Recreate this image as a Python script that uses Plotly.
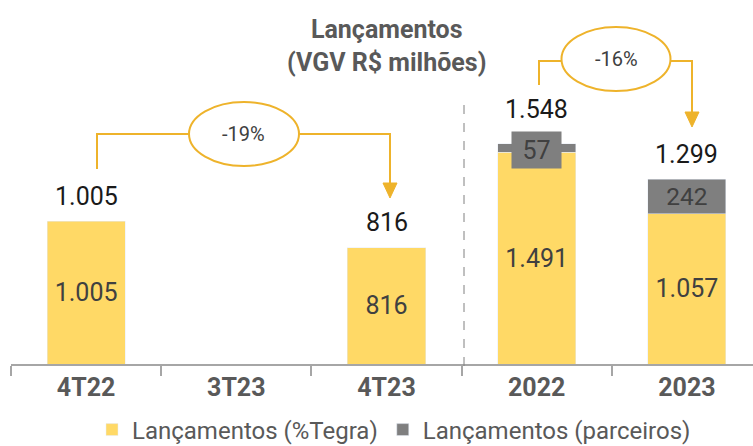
import plotly.graph_objects as go

categories = ["4T22", "3T23", "4T23", "2022", "2023"]
tegra = [1005, None, 816, 1491, 1057]
parceiros = [None, None, None, 57, 242]
totals = [1005, None, 816, 1548, 1299]
var_labels = ["-19%", "-16%"]
series_names = ["Lançamentos (%Tegra)", "Lançamentos (parceiros)"]

W, H = 753, 446
ML, MR, MT, MB = 11, 0, 0, 82
PW, PH = W - ML - MR, H - MT - MB
YMAX = 2560

def px(x):
    return (x - ML) / PW

def py(y):
    return (H - MB - y) / PH

def fmt(v):
    return f"{v:,}".replace(",", ".")

YEL = "#FFD966"
GRY = "#7F7F7F"
GOLD = "#EEB32B"
TXT = "#404040"
FONT = "Roboto"
BW = 0.52

fig = go.Figure()
fig.add_trace(go.Bar(
    x=categories, y=tegra, name=series_names[0], marker_color=YEL,
    text=[fmt(v) if v else "" for v in tegra],
    textposition="inside", insidetextanchor="middle",
    textfont=dict(family=FONT, size=25, color=TXT), width=BW,
))
p_text = [("" if (v is None or v < 100) else fmt(v)) for v in parceiros]
fig.add_trace(go.Bar(
    x=categories, y=parceiros, name=series_names[1], marker_color=GRY,
    text=p_text, textposition="inside", insidetextanchor="middle",
    textfont=dict(family=FONT, size=25, color=TXT), width=BW,
))

annotations = []
# totals above bars
for i, t in enumerate(totals):
    if t is None:
        continue
    shift = 34 if (parceiros[i] is not None and parceiros[i] < 100) else 25
    annotations.append(dict(x=i, y=t, xref="x", yref="y", text=fmt(t),
                            showarrow=False, yanchor="middle", xanchor="center", yshift=shift,
                            font=dict(family=FONT, size=25, color="#1a1a1a")))
# small partner label with box (2022)
for i, v in enumerate(parceiros):
    if v is not None and v < 100:
        annotations.append(dict(x=i, y=tegra[i] + v / 2, xref="x", yref="y", text=str(v),
                                showarrow=False, bgcolor=GRY, width=47, height=34,
                                xanchor="center", yanchor="middle", yshift=-2,
                                font=dict(family=FONT, size=25, color=TXT)))

# title
annotations.append(dict(x=px(387), y=py(46), xref="paper", yref="paper",
                        xanchor="center", yanchor="middle",
                        text="<b>Lançamentos</b><br><b>(VGV R$ milhões)</b>",
                        showarrow=False, font=dict(family=FONT, size=25, color="#595959")))

# variation labels
annotations.append(dict(x=px(244), y=py(134), xref="paper", yref="paper", text=var_labels[0],
                        xanchor="center", yanchor="middle",
                        showarrow=False, font=dict(family=FONT, size=20, color=TXT)))
annotations.append(dict(x=px(616), y=py(59), xref="paper", yref="paper", text=var_labels[1],
                        xanchor="center", yanchor="middle",
                        showarrow=False, font=dict(family=FONT, size=20, color=TXT)))

shapes = []
# dashed separator
shapes.append(dict(type="line", xref="paper", yref="paper", x0=px(464), x1=px(464),
                   y0=py(105), y1=py(373), line=dict(color="#808080", width=1, dash="dash")))
# ellipses
for cx, cy, w, h in [(244, 134, 110, 64), (616, 59, 109, 64)]:
    shapes.append(dict(type="circle", xref="paper", yref="paper",
                       x0=px(cx - w / 2), x1=px(cx + w / 2), y0=py(cy + h / 2), y1=py(cy - h / 2),
                       line=dict(color=GOLD, width=2)))

def path(points):
    return "M " + " L ".join(f"{px(x)},{py(y)}" for x, y in points)

# bracket lines
shapes.append(dict(type="path", xref="paper", yref="paper",
                   path=path([(97, 169), (97, 134), (189, 134)]), line=dict(color=GOLD, width=2)))
shapes.append(dict(type="path", xref="paper", yref="paper",
                   path=path([(299, 134), (390, 134), (390, 184)]), line=dict(color=GOLD, width=2)))
shapes.append(dict(type="path", xref="paper", yref="paper",
                   path=path([(539, 85), (539, 61), (562, 61)]), line=dict(color=GOLD, width=2)))
shapes.append(dict(type="path", xref="paper", yref="paper",
                   path=path([(671, 61), (692, 61), (692, 113)]), line=dict(color=GOLD, width=2)))
# arrowheads
for ax, ay in [(390, 198), (692, 127)]:
    shapes.append(dict(type="path", xref="paper", yref="paper",
                       path=path([(ax - 7, ay - 15), (ax + 7, ay - 15), (ax, ay)]) + " Z",
                       fillcolor=GOLD, line=dict(color=GOLD, width=1)))

fig.update_layout(
    width=W, height=H, margin=dict(l=ML, r=MR, t=MT, b=MB, autoexpand=False),
    barmode="stack", separators=",.",
    plot_bgcolor="white", paper_bgcolor="white",
    showlegend=True,
    legend=dict(orientation="h", x=px(394), xanchor="center", y=py(430), yanchor="middle",
                traceorder="normal",
                font=dict(family=FONT, size=24, color="#595959"),
                tracegroupgap=0, itemclick=False),
    xaxis=dict(type="category", range=[-0.5, 4.44], tickson="boundaries",
               ticks="outside", ticklen=10, tickcolor="#A6A6A6", tickwidth=2,
               showline=True, linecolor="#A6A6A6", linewidth=2, showgrid=False,
               tickfont=dict(family=FONT, size=25, color="#595959", weight="bold")),
    yaxis=dict(range=[0, YMAX], visible=False, showgrid=False),
    annotations=annotations, shapes=shapes,
)
fig.write_html("out.html", config={"displayModeBar": False},
               post_script="document.body.style.margin='0';document.body.style.overflow='hidden';")
